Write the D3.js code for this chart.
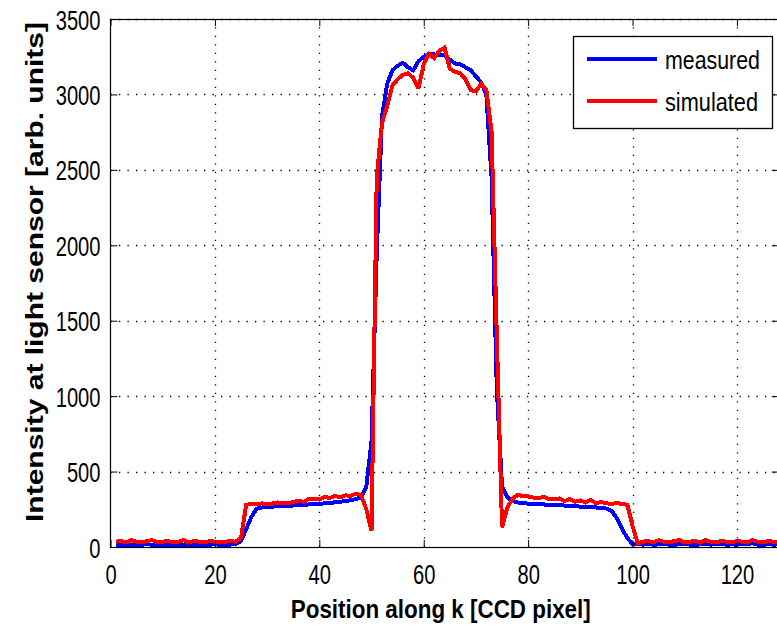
<!DOCTYPE html>
<html><head><meta charset="utf-8">
<script src="https://cdn.jsdelivr.net/npm/d3@7"></script>
<style>body{margin:0;background:#fff}svg{display:block}</style>
</head><body>
<script>
// ---- data ----
const positions = d3.range(1, 129); // CCD pixel 1..128
const measured = [
  15,15,12,14,16,15,20,14,13,15,12,14,16,15,13,15,14,16,15,18,15,14,16,20,
  40,120,200,255,262,265,268,270,272,272,275,278,280,282,285,285,290,292,296,300,305,310,318,330,400,
  700,1950,2850,3070,3160,3190,3210,3180,3160,3220,3250,3265,3265,3260,3260,3230,3205,3200,3180,3160,3120,3080,3000,2450,1050,400,
  330,305,295,290,288,285,283,282,280,278,276,275,272,270,268,266,265,262,260,255,240,190,120,60,20,
  18,16,20,15,17,22,16,15,18,20,16,15,17,19,16,18,22,15,17,16,20,18,25,16,15,18,16,17
];
const simulated = [
  35,40,30,45,35,30,40,45,30,35,40,30,35,45,30,40,35,30,40,35,30,35,40,35,
  60,280,285,282,290,282,288,295,292,288,300,305,300,318,320,315,332,325,338,330,342,340,352,345,250,110,
  2450,2810,2920,3060,3100,3130,3140,3110,3040,3200,3270,3240,3290,3310,3170,3150,3140,3100,3030,3020,3070,3030,2750,1400,130,
  260,320,345,338,335,328,325,332,318,315,322,305,318,300,308,295,312,290,298,290,285,292,285,280,140,
  25,35,40,30,45,35,30,40,45,30,35,40,30,45,35,30,40,35,30,40,35,30,45,35,30,40,35,30
];
const xTicks = [0, 20, 40, 60, 80, 100, 120];
const yTicks = [0, 500, 1000, 1500, 2000, 2500, 3000, 3500];
const seriesNames = ["measured", "simulated"];
const seriesColors = ["#0000ff", "#ff0000"];
const xTitle = "Position along k [CCD pixel]";
const yTitle = "Intensity at light sensor [arb. units]";

// ---- layout ----
const W = 777, H = 625;
const L = 110.5, R = 778.7, T = 19, B = 547;
const FONT = "'Liberation Sans', Arial, Helvetica, sans-serif";
const svg = d3.select("body").append("svg").attr("width", W).attr("height", H);
const x = d3.scaleLinear().domain([0, 128]).range([L, R]);
const y = d3.scaleLinear().domain([0, 3500]).range([B, T]);

// grid
const grid = svg.append("g").attr("stroke", "#000").attr("stroke-width", 1.3)
  .attr("stroke-dasharray", "1.3,7.2");
grid.selectAll("line.gx").data(xTicks.filter(d => d > 0)).join("line")
  .attr("x1", d => Math.round(x(d)) + 0.5).attr("x2", d => Math.round(x(d)) + 0.5)
  .attr("y1", B).attr("y2", T);
grid.selectAll("line.gy").data(yTicks.filter(d => d > 0)).join("line")
  .attr("x1", L).attr("x2", R)
  .attr("y1", d => Math.round(y(d)) + 0.5).attr("y2", d => Math.round(y(d)) + 0.5);

// lines
const line = d3.line().x((d, i) => x(positions[i])).y(d => y(d));
svg.append("clipPath").attr("id", "pc").append("rect")
  .attr("x", L).attr("y", T).attr("width", R - L).attr("height", B - T);
[measured, simulated].forEach((s, i) => {
  svg.append("path").datum(s).attr("d", line)
    .attr("fill", "none").attr("stroke", seriesColors[i]).attr("stroke-width", 4)
    .attr("stroke-linejoin", "miter").attr("stroke-miterlimit", 3)
    .attr("shape-rendering", "crispEdges")
    .attr("clip-path", "url(#pc)");
});

// axes
function styleText(g, fs) {
  g.selectAll("text").attr("font-family", FONT).attr("font-size", fs).attr("fill", "#000")
    .attr("lengthAdjust", "spacingAndGlyphs")
    .attr("textLength", function () { return this.textContent.length * 11.2; });
}
const xAxis = svg.append("g").attr("transform", `translate(0,${B})`)
  .call(d3.axisBottom(x).tickValues(xTicks).tickSize(-7).tickSizeOuter(0).tickFormat(d3.format("d")));
xAxis.select(".domain").remove();
xAxis.selectAll(".tick line").attr("stroke", "#000");
xAxis.selectAll("text").attr("y", 0).attr("dy", null).attr("transform", "translate(0,37)");
styleText(xAxis, 28);

const xTop = svg.append("g").attr("transform", `translate(0,${T})`)
  .call(d3.axisTop(x).tickValues(xTicks).tickSize(-7).tickSizeOuter(0).tickFormat(""));
xTop.select(".domain").remove();

const yAxis = svg.append("g").attr("transform", `translate(${L},0)`)
  .call(d3.axisLeft(y).tickValues(yTicks).tickSize(-7).tickSizeOuter(0).tickFormat(d3.format("d")));
yAxis.select(".domain").remove();
yAxis.selectAll("text").attr("x", -10).attr("dy", "0.36em");
styleText(yAxis, 28);

const yRight = svg.append("g").attr("transform", `translate(${R},0)`)
  .call(d3.axisRight(y).tickValues(yTicks).tickSize(-7).tickSizeOuter(0).tickFormat(""));
yRight.select(".domain").remove();

// frame
svg.append("rect").attr("x", L).attr("y", T + 0.5).attr("width", R - L).attr("height", B - T)
  .attr("fill", "none").attr("stroke", "#000").attr("stroke-width", 1.2);

// titles
svg.append("text").attr("x", (L + 771) / 2).attr("y", 618).attr("text-anchor", "middle")
  .attr("font-family", FONT).attr("font-weight", "bold").attr("font-size", 25)
  .attr("textLength", 300).attr("lengthAdjust", "spacingAndGlyphs").text(xTitle);
svg.append("text").attr("transform", "translate(43,272) rotate(-90)").attr("text-anchor", "middle")
  .attr("font-family", FONT).attr("font-weight", "bold").attr("font-size", 24)
  .attr("textLength", 500).attr("lengthAdjust", "spacingAndGlyphs").text(yTitle);

// legend
const lg = svg.append("g");
lg.append("rect").attr("x", 573.5).attr("y", 36.5).attr("width", 199).attr("height", 92)
  .attr("fill", "#fff").attr("stroke", "#000").attr("stroke-width", 1.3);
const lw = [95, 93];
seriesNames.forEach((n, i) => {
  const yy = 59 + i * 42;
  lg.append("line").attr("x1", 587).attr("x2", 657).attr("y1", yy).attr("y2", yy)
    .attr("stroke", seriesColors[i]).attr("stroke-width", 4);
  lg.append("text").attr("x", 665).attr("y", yy + 10).attr("font-family", FONT)
    .attr("font-size", 25).attr("textLength", lw[i]).attr("lengthAdjust", "spacingAndGlyphs").text(n);
});
</script>
</body></html>
